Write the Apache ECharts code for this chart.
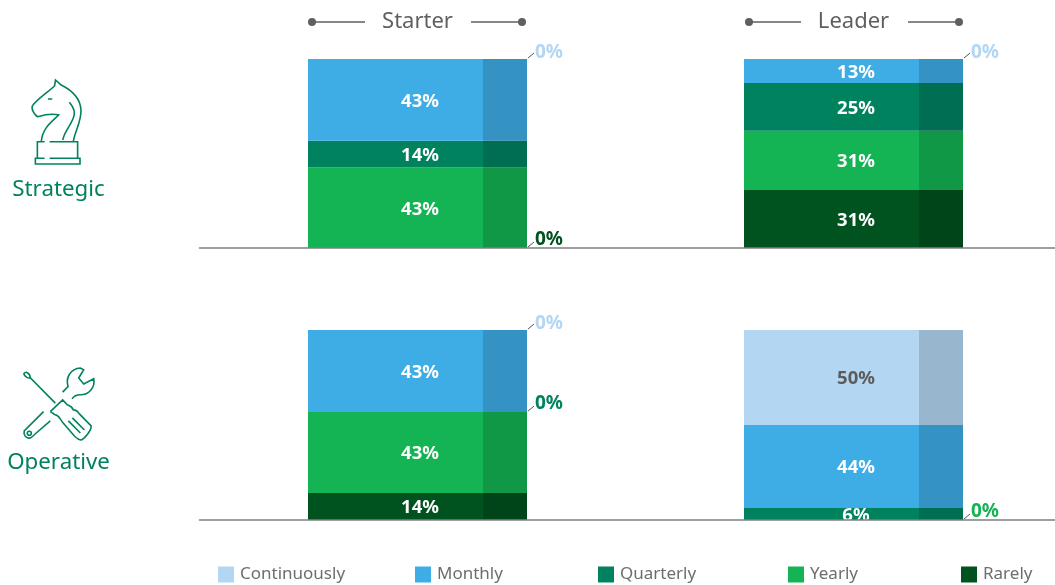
<!DOCTYPE html>
<html><head><meta charset="utf-8">
<style>html,body{margin:0;padding:0;background:#fff;overflow:hidden;width:1055px;height:585px}#v{width:1055px;height:585px;overflow:hidden}#c{width:1072px;height:585px}</style>
<script src="https://cdn.jsdelivr.net/npm/echarts@6/dist/echarts.min.js"></script>
</head><body><div id="v"><div id="c"></div></div>
<script>
const categories = ['Starter', 'Leader'];
const rowNames = ['Strategic', 'Operative'];
const seriesNames = ['Rarely', 'Yearly', 'Quarterly', 'Monthly', 'Continuously'];
const strategicRarely = [0, 30.7];
const strategicYearly = [42.6, 31.4];
const strategicQuarterly = [14.2, 25.2];
const strategicMonthly = [43.2, 12.7];
const strategicContinuously = [0, 0];
const operativeRarely = [14.2, 0];
const operativeYearly = [42.6, 0];
const operativeQuarterly = [0, 6.3];
const operativeMonthly = [43.2, 43.7];
const operativeContinuously = [0, 50];
const strategicZeroNotes = [[0, 'Continuously'], [0, 'Rarely'], [1, 'Continuously']];
const operativeZeroNotes = [[0, 'Continuously'], [0, 'Quarterly'], [1, 'Yearly']];

const colors = {Rarely:'#00521F', Yearly:'#14B354', Quarterly:'#00825F', Monthly:'#3EADE6', Continuously:'#B3D6F3'};
const FONT = '"Noto Sans", sans-serif';
const BAR = 219, SHADE = 44;
const rows = [
  {values:[strategicRarely, strategicYearly, strategicQuarterly, strategicMonthly, strategicContinuously], notes:strategicZeroNotes},
  {values:[operativeRarely, operativeYearly, operativeQuarterly, operativeMonthly, operativeContinuously], notes:operativeZeroNotes}
];
const series = [];
rows.forEach((row, g) => {
  seriesNames.forEach((name, i) => {
    series.push({
      type:'bar', name, xAxisIndex:g, yAxisIndex:g, stack:'s'+g, barWidth:BAR,
      itemStyle:{color:colors[name]}, data:row.values[i], z:2,
      label:{show:true, position:'inside', offset:[2.5,1.5], fontFamily:FONT, fontWeight:'bold', fontSize:18.5,
        color: name === 'Continuously' ? '#5c5c5c' : '#fff',
        formatter:p => p.value > 0 ? Math.round(p.value) + '%' : ''}
    });
  });
  const totals = categories.map((c, k) => [k, row.values.reduce((s, v) => s + v[k], 0)]);
  series.push({
    type:'custom', xAxisIndex:g, yAxisIndex:g, data:totals, z:3, silent:true,
    renderItem:(params, api) => {
      const top = api.coord([api.value(0), api.value(1)]);
      const bot = api.coord([api.value(0), 0]);
      return {type:'rect', shape:{x:top[0] + BAR/2 - SHADE, y:top[1], width:SHADE, height:bot[1]-top[1]},
        style:{fill:'rgba(0,0,0,0.15)'}};
    }
  });
  const noteData = row.notes.map(([k, name]) => {
    const idx = seriesNames.indexOf(name);
    let pos = 0;
    for (let j = 0; j < idx; j++) pos += row.values[j][k];
    return [k, pos, idx];
  });
  series.push({
    type:'custom', xAxisIndex:g, yAxisIndex:g, data:noteData, z:4, silent:true, clip:false,
    renderItem:(params, api) => {
      const pt = api.coord([api.value(0), api.value(1)]);
      const name = seriesNames[api.value(2)];
      const x = pt[0] + BAR/2, y = pt[1];
      const dy = api.value(1) >= 99 ? -6 : -8.5;
      return {type:'group', children:[
        {type:'line', shape:{x1:x+1, y1:y-1, x2:x+7, y2:y-6}, style:{stroke:'#555', lineWidth:1}},
        {type:'text', x:x+8, y:y+dy, style:{text:'0%', fill:colors[name], font:'bold 19px '+FONT, textAlign:'left', textVerticalAlign:'middle'}}
      ]};
    }
  });
});

const legendPos = [['Continuously',218],['Monthly',415],['Quarterly',598],['Yearly',788],['Rarely',961]];
const legends = legendPos.map(([n, left]) => ({
  data:[n], left, top:566, itemWidth:16, itemHeight:16, icon:'rect', itemGap:0, padding:0,
  selectedMode:false, textStyle:{fontFamily:FONT, fontSize:17, color:'#6e6e6e', padding:[0,0,0,1]}
}));
const axisX = g => ({type:'category', gridIndex:g, data:categories, axisLine:{lineStyle:{color:'#7f7f7f', width:1.5}}, axisTick:{show:false}, axisLabel:{show:false}, z:5});
const axisY = g => ({type:'value', gridIndex:g, min:0, max:100, show:false});

const stroke = {stroke:'#00825F', lineWidth:1.6, fill:'none'};
const knight = 'M41.7 141C43 128 52 122 59.3 115C52 113 44 115 38 116.7C35 115 32 110 32.3 106.7C34 102 46 94 55 86L56 80L61.7 85C72 90 81 98 81.7 110C82 122 76 130 74 141M70 102.3C73 106 75 109 75 113C75 122 65 130 63.3 140M48.3 99H52.7M45 141.7H37.7V158.3H45M50 141.7H78.3V158.3H50M45 158.3H35.7V164H80.7V158.3H50';
const tools = 'M55 403.3L30 378C28 379 25 377 24 375C23 373 26 372 27 373C29 374 30 376 30 378M50 411.7L62.3 400L67 405C70 406 72 408 73 410C75 410 77 411 79 414L90.7 426C91 430 85 438 81 440C78 440 76 438 74 436L62 422C59 418 58 415 55 415C53 414 52 413 50 411.7M68 421L80 433M72 418L84 430M43.3 411.7L24 431C23 435 26 439 30 438C32 437 34 435 36 433L50 421M62.3 392.3L67.7 386.7C65 378 70 369 80 368.3L83.3 370L78.3 378.3L83.3 384.3L93.3 379C95 388 88 395 80 395C76 395 73 397 71.7 399';
const iconBox = [[32,80,49,84],[24,368,70,72]];
series.push({
  type:'custom', coordinateSystem:'none', data:[[0]], silent:true, z:6,
  renderItem:() => ({type:'group', children:[
    {type:'path', shape:{pathData:knight, layout:'cover', x:iconBox[0][0], y:iconBox[0][1], width:iconBox[0][2], height:iconBox[0][3]}, style:stroke},
    {type:'path', shape:{pathData:tools, layout:'cover', x:iconBox[1][0], y:iconBox[1][1], width:iconBox[1][2], height:iconBox[1][3]}, style:stroke}
  ]})
});
const graphic = [{type:'circle', shape:{cx:29.3, cy:433.3, r:2}, style:stroke}];
[[417.5,[312,365],[471,522]],[853.5,[749,801],[908,959]]].forEach(([cx, a, b], i) => {
  graphic.push({type:'text', x:cx, y:21.5, style:{text:categories[i], font:'22px '+FONT, fill:'#5f5f5f', textAlign:'center', textVerticalAlign:'middle'}});
  [[a[0],a[1],a[0]],[b[0],b[1],b[1]]].forEach(([x1,x2,dot]) => {
    graphic.push({type:'line', shape:{x1, y1:22, x2, y2:22}, style:{stroke:'#5f5f5f', lineWidth:1.5}});
    graphic.push({type:'circle', shape:{cx:dot, cy:22, r:4}, style:{fill:'#5f5f5f'}});
  });
});
[[58.5,189.5],[58.5,462.5]].forEach(([x,y], i) => {
  graphic.push({type:'text', x, y, style:{text:rowNames[i], font:'22.3px '+FONT, fill:'#00825F', textAlign:'center', textVerticalAlign:'middle'}});
});

const chart = echarts.init(document.getElementById('c'), null, {renderer:'canvas'});
chart.setOption({
  animation:false, backgroundColor:'#fff', tooltip:{show:false},
  grid:[{left:199.5, top:59, width:872, height:189},{left:199.5, top:330, width:872, height:190}],
  xAxis:[axisX(0), axisX(1)], yAxis:[axisY(0), axisY(1)],
  legend:legends, series, graphic
});
</script></body></html>
